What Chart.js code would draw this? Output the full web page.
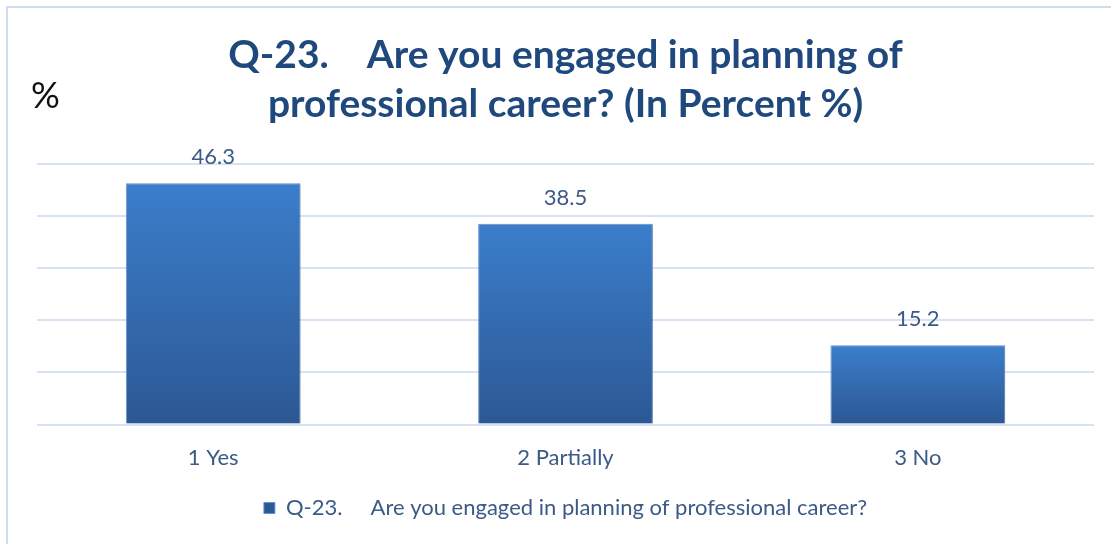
<!DOCTYPE html>
<html>
<head>
<meta charset="utf-8">
<script src="https://cdn.jsdelivr.net/npm/chart.js@4.4.1/dist/chart.umd.min.js"></script>
<style>
  html, body { margin: 0; padding: 0; background: #ffffff; }
  #wrap { position: relative; width: 1111px; height: 544px; }
</style>
</head>
<body>
<div id="wrap"><canvas id="c" width="1111" height="544"></canvas></div>
<script>
// Survey answers for Q-23 and their shares in percent
const categories = ['1 Yes', '2 Partially', '3 No'];
const percentValues = [46.3, 38.5, 15.2];
const seriesName = 'Q-23.     Are you engaged in planning of professional career?';
const titleLines = ['Q-23.    Are you engaged in planning of', 'professional career? (In Percent %)'];
const yTicks = { min: 0, max: 50, step: 10 };

const FONT = "Lato, 'Open Sans', sans-serif";
const TEXT_BLUE = '#3b5a86';

// Vertical gradient per bar: lighter at the top, deeper at the base
function barFill(ctx) {
  const chart = ctx.chart;
  if (ctx.type !== 'data' || !chart.chartArea) return '#3670bb';
  const y = chart.scales.y;
  const top = y.getPixelForValue(ctx.parsed.y);
  const base = y.getPixelForValue(0);
  const g = chart.ctx.createLinearGradient(0, top, 0, base);
  g.addColorStop(0, '#3b7ecb');
  g.addColorStop(1, '#2c5894');
  return g;
}

// Frame, "%" unit mark and value labels above bars
const decorations = {
  id: 'decorations',
  beforeDraw(chart) {
    const c = chart.ctx;
    c.save();
    c.fillStyle = '#ffffff';
    c.fillRect(0, 0, chart.width, chart.height);
    c.strokeStyle = '#cddcf0';
    c.lineWidth = 2;
    c.strokeRect(7, 7, chart.width + 40, chart.height + 40);
    c.fillStyle = '#111111';
    c.font = "36px " + FONT;
    c.textAlign = 'left';
    c.textBaseline = 'middle';
    c.fillText('%', 31, 96);
    c.restore();
  },
  beforeDatasetsDraw(chart) {
    const c = chart.ctx;
    c.save();
    c.shadowColor = 'rgba(0,0,0,0.22)';
    c.shadowBlur = 4;
    c.shadowOffsetX = 2;
    c.shadowOffsetY = 1;
  },
  afterDatasetsDraw(chart) {
    const c = chart.ctx;
    c.restore();
    c.save();
    c.fillStyle = TEXT_BLUE;
    c.font = "22px " + FONT;
    c.textAlign = 'center';
    c.textBaseline = 'middle';
    const meta = chart.getDatasetMeta(0);
    meta.data.forEach((bar, i) => {
      c.fillText(String(chart.data.datasets[0].data[i]), bar.x, bar.y - 26);
    });
    c.restore();
  }
};

new Chart(document.getElementById('c'), {
  type: 'bar',
  data: {
    labels: categories,
    datasets: [{
      label: seriesName,
      data: percentValues,
      backgroundColor: barFill,
      borderColor: 'rgba(95,145,210,0.9)',
      borderWidth: 1,
      categoryPercentage: 0.8,
      barPercentage: 0.62
    }]
  },
  options: {
    responsive: false,
    animation: false,
    devicePixelRatio: 1,
    layout: { padding: { left: 37, right: 17, top: 0, bottom: 15 } },
    plugins: {
      title: {
        display: true,
        text: titleLines,
        color: '#1f497d',
        font: { family: FONT, size: 39, weight: 'bold', lineHeight: 1.28 },
        padding: { top: 30, bottom: 34 }
      },
      legend: {
        display: true,
        position: 'bottom',
        labels: {
          color: TEXT_BLUE,
          font: { family: FONT, size: 22 },
          boxWidth: 11,
          boxHeight: 11,
          padding: 6
        }
      },
      tooltip: { enabled: false }
    },
    scales: {
      x: {
        grid: { display: false, drawTicks: false },
        border: { display: false },
        ticks: { color: TEXT_BLUE, font: { family: FONT, size: 22 }, padding: 20 }
      },
      y: {
        min: yTicks.min,
        max: yTicks.max,
        grid: { color: '#d7e3f2', lineWidth: 2, drawTicks: false },
        border: { display: false },
        ticks: { display: false, stepSize: yTicks.step }
      }
    }
  },
  plugins: [decorations]
});
</script>
</body>
</html>
